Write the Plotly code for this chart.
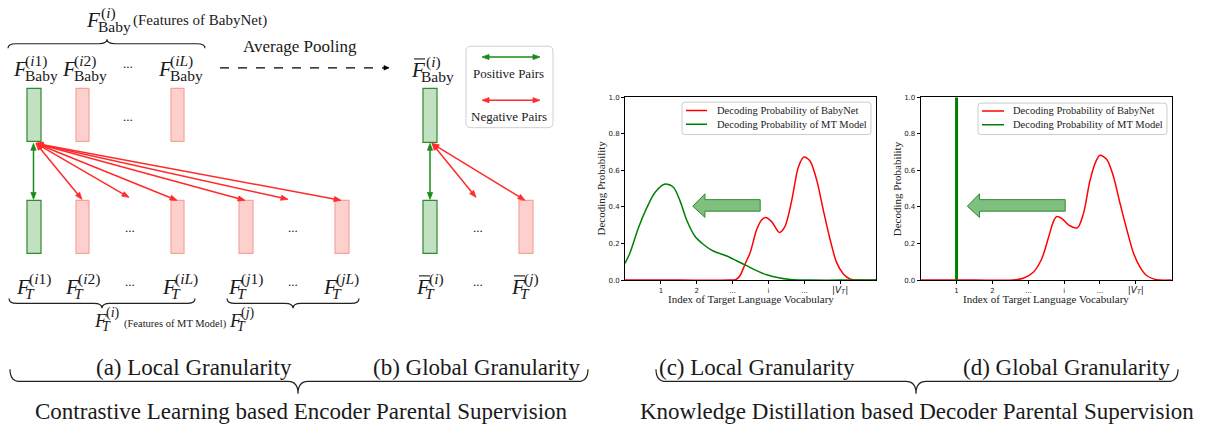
import math
import plotly.graph_objects as go

# ------------------------------------------------------------------ data
x_tick_vals = [1, 2, 3, 4, 5, 6]
x_tick_text = ["1", "2", "...", "i", "...",
               "<span style='font-size:9px'>|<i>V<sub>T</sub></i>|</span>"]
y_tick_vals = [0.0, 0.2, 0.4, 0.6, 0.8, 1.0]

series_names = ["Decoding Probability of BabyNet", "Decoding Probability of MT Model"]

# (c) local granularity
c_mt_x = [0, 0.14, 0.37, 0.6, 0.84, 1.12, 1.35, 1.53, 1.72, 1.95, 2.19, 2.46, 2.84,
          3.11, 3.39, 3.67, 3.95, 4.32, 4.69, 5.2, 6.0, 7.0]
c_mt_y = [0.091, 0.15, 0.284, 0.392, 0.481, 0.526, 0.508, 0.436, 0.329, 0.24, 0.195,
          0.159, 0.132, 0.106, 0.079, 0.052, 0.029, 0.011, 0.002, 0.0, 0.0, 0.0]
c_baby_x = [0, 1.5, 2.9, 3.1, 3.21, 3.35, 3.49, 3.67, 3.81, 3.92, 4.09, 4.3, 4.46, 4.65,
            4.83, 4.99, 5.16, 5.35, 5.53, 5.72, 5.9, 6.09, 6.27, 6.5, 7.0]
c_baby_y = [0, 0, 0, 0.004, 0.025, 0.088, 0.15, 0.275, 0.329, 0.342, 0.32, 0.261, 0.293,
            0.436, 0.615, 0.673, 0.651, 0.544, 0.383, 0.222, 0.097, 0.034, 0.007, 0, 0]

# (d) global granularity
d_mt_x = [1, 1]
d_mt_y = [0.0, 1.0]
d_baby_x = [0, 1.5, 2.58, 2.86, 3.14, 3.37, 3.56, 3.7, 3.79, 3.93, 4.12, 4.37, 4.54, 4.72,
            4.89, 5.0, 5.19, 5.37, 5.56, 5.75, 5.93, 6.12, 6.3, 6.49, 6.67, 7.0]
d_baby_y = [0, 0, 0, 0.01, 0.043, 0.114, 0.23, 0.32, 0.347, 0.338, 0.302, 0.286, 0.365,
            0.544, 0.651, 0.683, 0.66, 0.571, 0.419, 0.275, 0.15, 0.07, 0.025, 0.007, 0, 0]

panel_labels = ["(a) Local Granularity", "(b) Global Granularity",
                "(c) Local Granularity", "(d) Global Granularity"]
group_labels = ["Contrastive Learning based Encoder Parental Supervision",
                "Knowledge Distillation based Decoder Parental Supervision"]
pair_labels = ["Positive Pairs", "Negative Pairs"]
feature_labels = ["(Features of BabyNet)", "(Features of MT Model)"]
pooling_label = "Average Pooling"
x_title = "Index of Target Language Vocabulary"
y_title = "Decoding Probability"

# ------------------------------------------------------------------ helpers
W, H = 1209, 434
SERIF = "Liberation Serif"
RED = "#ff2a2a"
GREEN = "#1a8a1a"
G_FILL, G_LINE = "#c2e0c2", "#2e8b2e"
P_FILL, P_LINE = "#fcd0cc", "#f7a39b"
TXT = "#1a1a1a"

annotations = []
shapes = []


def px(x):
    return x / W


def py(y):
    return 1 - y / H


def P(x, y):
    return f"{px(x):.5f},{py(y):.5f}"


def text(x, y, s, size, xanchor="center", yanchor="middle", color=TXT, angle=0):
    annotations.append(dict(x=px(x), y=py(y), xref="paper", yref="paper", text=s,
                            showarrow=False, textangle=angle,
                            font=dict(family=SERIF, size=size, color=color),
                            xanchor=xanchor, yanchor=yanchor, borderpad=0))


def line(x0, y0, x1, y1, color, width=1.0, dash=None):
    ln = dict(color=color, width=width)
    if dash:
        ln["dash"] = dash
    shapes.append(dict(type="line", xref="paper", yref="paper", x0=px(x0), x1=px(x1),
                       y0=py(y0), y1=py(y1), line=ln))


def flabel(x, y, sup, sub, size=21, small=15.5, sup_dx=12, sub_dx=12, sup_dy=-8,
           sub_dy=7, bar=False):
    text(x, y, "<i>F</i>", size, xanchor="left")
    text(x + sup_dx, y + sup_dy, sup, small, xanchor="left")
    text(x + sub_dx, y + sub_dy, sub, small, xanchor="left")
    if bar:
        line(x + 4, y - 11, x + 15, y - 11, "black", 1.0)


def rect(x0, y0, x1, y1, fill, edge):
    shapes.append(dict(type="rect", xref="paper", yref="paper", x0=px(x0), x1=px(x1),
                       y0=py(y1), y1=py(y0), fillcolor=fill, line=dict(color=edge, width=1.2)))


def head(tx, ty, ux, uy, color, hl=7.0, hw=2.6):
    bx, by = tx - hl * ux, ty - hl * uy
    nx, ny = -uy, ux
    path = (f"M{P(tx, ty)} L{P(bx + hw * nx, by + hw * ny)} "
            f"L{P(bx - hw * nx, by - hw * ny)} Z")
    shapes.append(dict(type="path", xref="paper", yref="paper", path=path,
                       fillcolor=color, line=dict(color=color, width=0.8)))


def arrow(x0, y0, x1, y1, color, width=1.5, both=True, hl=7.0, hw=2.6, dash=None):
    d = math.hypot(x1 - x0, y1 - y0)
    ux, uy = (x1 - x0) / d, (y1 - y0) / d
    sx, sy = (x0 + hl * ux, y0 + hl * uy) if both else (x0, y0)
    ex, ey = x1 - hl * ux, y1 - hl * uy
    line(sx, sy, ex, ey, color, width, dash)
    head(x1, y1, ux, uy, color, hl, hw)
    if both:
        head(x0, y0, -ux, -uy, color, hl, hw)


def brace(x0, x1, xm, y0, h, s, r=8, width=1.2):
    ym = y0 + s * h / 2
    yt = y0 + s * h
    path = (f"M{P(x0, y0)} Q{P(x0, ym)} {P(x0 + r, ym)} L{P(xm - r, ym)} "
            f"Q{P(xm, ym)} {P(xm, yt)} Q{P(xm, ym)} {P(xm + r, ym)} "
            f"L{P(x1 - r, ym)} Q{P(x1, ym)} {P(x1, y0)}")
    shapes.append(dict(type="path", xref="paper", yref="paper", path=path,
                       line=dict(color="#222222", width=width)))


def round_rect(x0, y0, x1, y1, r=5, edge="#d0d0d0"):
    path = (f"M{P(x0 + r, y0)} L{P(x1 - r, y0)} Q{P(x1, y0)} {P(x1, y0 + r)} "
            f"L{P(x1, y1 - r)} Q{P(x1, y1)} {P(x1 - r, y1)} L{P(x0 + r, y1)} "
            f"Q{P(x0, y1)} {P(x0, y1 - r)} L{P(x0, y0 + r)} Q{P(x0, y0)} {P(x0 + r, y0)} Z")
    shapes.append(dict(type="path", xref="paper", yref="paper", path=path,
                       fillcolor="white", line=dict(color=edge, width=1)))


def dots(x, y):
    text(x, y - 3, "...", 13)


T_SUB = dict(sup_dx=13, sub_dx=9, sup_dy=-8, sub_dy=7)

# ------------------------------------------------------------------ left diagram (a)
flabel(85, 16, "(<i>i</i>)", "Baby", sup_dx=15, sub_dx=12, sup_dy=-7, sub_dy=7)
text(132, 17, feature_labels[0], 15, xanchor="left")
brace(8, 205, 107, 45, 9, -1)

flabel(12, 66, "(<i>i</i>1)", "Baby")
flabel(61, 66, "(<i>i</i>2)", "Baby")
dots(128, 64)
flabel(157, 66, "(<i>iL</i>)", "Baby")

rect(27, 86, 41, 140, G_FILL, G_LINE)
rect(76, 86, 89, 140, P_FILL, P_LINE)
dots(128, 118)
rect(171, 86, 184, 140, P_FILL, P_LINE)

rect(27, 200, 41, 254, G_FILL, G_LINE)
rect(76, 200, 89, 254, P_FILL, P_LINE)
dots(130, 231)
rect(171, 200, 184, 254, P_FILL, P_LINE)
rect(239, 200, 253, 254, P_FILL, P_LINE)
dots(293, 231)
rect(335, 200, 349, 254, P_FILL, P_LINE)

arrow(33.5, 142, 33.5, 199, GREEN)
for tx, ty in [(82, 199), (129, 197), (177, 200), (245, 200), (288, 199), (341, 200)]:
    arrow(36, 142, tx, ty, RED)

for fx, sup in [(15, "(<i>i</i>1)"), (64, "(<i>i</i>2)"), (161, "(<i>iL</i>)"),
                (227, "(<i>j</i>1)"), (322, "(<i>jL</i>)")]:
    flabel(fx, 288, sup, "<i>T</i>", **T_SUB)
dots(130, 286)
dots(293, 286)

brace(9, 195, 102, 300, 10, 1)
brace(227, 359, 293, 300, 10, 1)
flabel(93, 322, "(<i>i</i>)", "<i>T</i>", size=19, small=14, sup_dx=12, sub_dx=8,
       sup_dy=-7, sub_dy=7)
text(123, 326, feature_labels[1], 10.5, xanchor="left")
flabel(228, 322, "(<i>j</i>)", "<i>T</i>", size=19, small=14, sup_dx=12, sub_dx=8,
       sup_dy=-7, sub_dy=7)

# pooling arrow
text(300, 43, pooling_label, 17)
arrow(220, 65, 389, 65, "black", width=1.2, both=False, hl=5, hw=2.2, dash="dash")

# ------------------------------------------------------------------ right diagram (b)
flabel(410, 67, "(<i>i</i>)", "Baby", sup_dx=15, sub_dx=10, sup_dy=-8, sub_dy=7, bar=True)
rect(423, 86, 437, 141, G_FILL, G_LINE)
rect(423, 200, 437, 254, G_FILL, G_LINE)
rect(519, 200, 533, 254, P_FILL, P_LINE)
dots(478, 231)
arrow(430, 142, 430, 199, GREEN)
arrow(432, 142, 476, 197, RED)
arrow(432, 142, 525, 200, RED)
flabel(415, 288, "(<i>i</i>)", "<i>T</i>", bar=True, **T_SUB)
dots(478, 286)
flabel(510, 288, "(<i>j</i>)", "<i>T</i>", bar=True, **T_SUB)

round_rect(466, 43, 553, 126)
arrow(482, 54, 540, 54, GREEN)
text(509, 71, pair_labels[0], 13)
arrow(482, 98, 540, 98, RED)
text(509, 115, pair_labels[1], 13)

# ------------------------------------------------------------------ bottom captions
text(194, 370, panel_labels[0], 23)
text(476, 370, panel_labels[1], 23)
text(757, 370, panel_labels[2], 23)
text(1066, 370, panel_labels[3], 23)
brace(10, 588, 298, 372, 25, 1, r=10)
brace(656, 1178, 916, 372, 25, 1, r=10)
text(301, 415, group_labels[0], 23)
text(917, 415, group_labels[1], 23)

# ------------------------------------------------------------------ plots (c) and (d)
fig = go.Figure()
fig.add_trace(go.Scatter(x=c_baby_x, y=c_baby_y, mode="lines", name=series_names[0],
                         line=dict(color="#ff0000", width=1.5, shape="spline", smoothing=0.8),
                         xaxis="x", yaxis="y", showlegend=False))
fig.add_trace(go.Scatter(x=c_mt_x, y=c_mt_y, mode="lines", name=series_names[1],
                         line=dict(color="#008000", width=1.5, shape="spline", smoothing=0.8),
                         xaxis="x", yaxis="y", showlegend=False))
fig.add_trace(go.Scatter(x=d_baby_x, y=d_baby_y, mode="lines", name=series_names[0],
                         line=dict(color="#ff0000", width=1.5, shape="spline", smoothing=0.8),
                         xaxis="x2", yaxis="y2", showlegend=False))
fig.add_trace(go.Scatter(x=d_mt_x, y=d_mt_y, mode="lines", name=series_names[1],
                         line=dict(color="#008000", width=3),
                         xaxis="x2", yaxis="y2", showlegend=False))

# big block arrows inside the plots (tip_x, head_base_x, tail_x)
for xr, yr, (tip, base, tail) in [("x", "y", (1.89, 2.23, 3.77)), ("x2", "y2", (1.30, 1.64, 4.03))]:
    path = (f"M{tip},0.404 L{base},0.472 L{base},0.44 L{tail},0.44 L{tail},0.377 "
            f"L{base},0.377 L{base},0.343 Z")
    shapes.append(dict(type="path", xref=xr, yref=yr, path=path,
                       fillcolor="rgba(0,128,0,0.5)", line=dict(color="#2e8b2e", width=1)))

# legends drawn inside each plot
for (bx0, by0, bx1, by1, lx0, lx1, tx, ry, gy) in [
        (682, 100, 871, 133, 686, 707, 716, 108.5, 122.5),
        (978, 101, 1167, 133, 982, 1004, 1012, 109, 123)]:
    round_rect(bx0, by0, bx1, by1, r=3, edge="#cccccc")
    line(lx0, ry, lx1, ry, "#ff0000", 1.5)
    line(lx0, gy, lx1, gy, "#008000", 1.5)
    text(tx, ry, series_names[0], 10.5, xanchor="left", color="#222222")
    text(tx, gy, series_names[1], 10.5, xanchor="left", color="#222222")

# axis titles
for cx in [(625 + 876) / 2, (920.7 + 1171.7) / 2]:
    text(cx, 301, x_title, 11, color="#222222")
for cx in [601, 896.7]:
    text(cx, 188, y_title, 11, color="#222222", angle=-90)

ax_common = dict(showline=True, linecolor="black", linewidth=1, mirror=True, showgrid=False,
                 zeroline=False, ticks="outside", ticklen=3, tickwidth=0.8, tickcolor="black",
                 tickfont=dict(family="DejaVu Sans", size=7, color="#222222"), fixedrange=True)
ydom = [1 - 281.3 / H, 1 - 95 / H]
xdom_c = [625 / W, 876 / W]
xdom_d = [920.7 / W, 1171.7 / W]

fig.update_layout(
    width=W, height=H, margin=dict(l=0, r=0, t=0, b=0),
    paper_bgcolor="white", plot_bgcolor="white", showlegend=False,
    xaxis=dict(domain=xdom_c, range=[0, 7], tickvals=x_tick_vals, ticktext=x_tick_text,
               anchor="y", **ax_common),
    yaxis=dict(domain=ydom, range=[0, 1], tickvals=y_tick_vals, tickformat=".1f",
               anchor="x", **ax_common),
    xaxis2=dict(domain=xdom_d, range=[0, 7], tickvals=x_tick_vals, ticktext=x_tick_text,
                anchor="y2", **ax_common),
    yaxis2=dict(domain=ydom, range=[0, 1], tickvals=y_tick_vals, tickformat=".1f",
                anchor="x2", **ax_common),
    shapes=shapes,
    annotations=annotations,
)

fig.write_html("out.html", config={"displayModeBar": False},
               post_script="document.body.style.margin='0px';")
